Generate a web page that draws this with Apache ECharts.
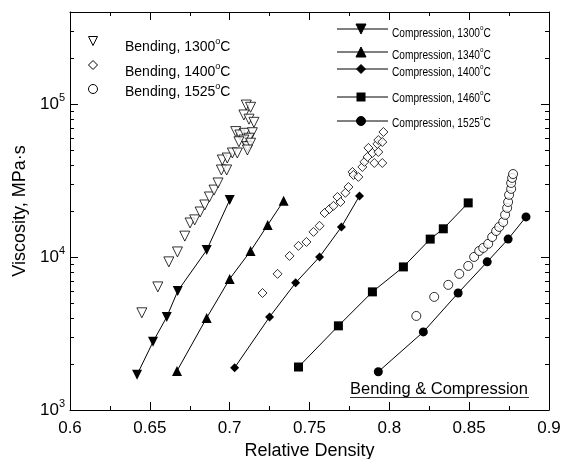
<!DOCTYPE html>
<html><head><meta charset="utf-8">
<script src="https://cdn.jsdelivr.net/npm/echarts@6/dist/echarts.min.js"></script>
<style>html,body{margin:0;padding:0;background:#fff}#c{width:564px;height:459px}</style>
</head><body><div id="c"></div><script>
const FONT = '"Liberation Sans", Arial, Helvetica, sans-serif';

// ---- tick labels ----
const xTickLabels = ['0.6', '0.65', '0.7', '0.75', '0.8', '0.85', '0.9'];
const yTickLabels = ['10{sup|3}', '10{sup|4}', '10{sup|5}'];
const yMinorTicks = [2000, 3000, 4000, 5000, 6000, 7000, 8000, 9000,
  20000, 30000, 40000, 50000, 60000, 70000, 80000, 90000, 200000, 300000];

// ---- bending (open symbols) [relative density, viscosity MPa·s] ----
const bend1300 = [[0.645,4320],[0.655,6380],[0.6619,9300],[0.6673,10800],[0.6719,13700],[0.6752,16700],
  [0.6781,17500],[0.6815,19700],[0.6844,21900],[0.6873,24700],[0.6902,27400],[0.6927,30500],[0.6948,37100],
  [0.6981,37100],[0.6954,43100],[0.6985,44400],[0.7017,47900],[0.7048,47900],[0.7038,66100],[0.7064,62800],
  [0.7094,64400],[0.7142,65000],[0.7121,59800],[0.7089,58200],[0.7058,56700],[0.7111,52700],[0.7131,55500],
  [0.7111,50100],[0.7104,98600],[0.7131,95300],[0.7089,84900],[0.7121,79700],[0.7152,76000]];
const bend1400 = [[0.7206,5820],[0.730,7760],[0.7375,10170],[0.7431,11830],[0.7481,12550],[0.7525,14600],
  [0.7563,16000],[0.7594,19400],[0.7625,20600],[0.765,21600],[0.7675,24700],[0.7694,22900],[0.7725,26300],
  [0.7744,28700],[0.7769,36000],[0.7775,34400],[0.7806,33400],[0.7831,38800],[0.7844,41900],[0.7863,45100],
  [0.7869,51700],[0.7894,47900],[0.7906,41200],[0.7931,48600],[0.7925,54900],[0.7956,41200],[0.7931,58200],
  [0.7956,56500],[0.7963,65700]];
const bend1525 = [[0.8169,4120],[0.8281,5490],[0.8369,6580],[0.8438,7760],[0.8494,8750],[0.8531,10020],
  [0.8563,10960],[0.8588,11470],[0.8619,12200],[0.8644,13520],[0.8669,14800],[0.8688,15740],[0.8713,16950],
  [0.8725,18870],[0.8738,20940],[0.8744,22900],[0.875,25500],[0.8763,27900],[0.8763,30500],[0.8769,32900],
  [0.8775,34900]];

// ---- compression (filled symbols + line) ----
const comp1300 = [[0.642,1700],[0.652,2790],[0.6606,4060],[0.6675,6000],[0.6856,11100],[0.700,23600]];
const comp1340 = [[0.667,1800],[0.6856,4000],[0.700,7190],[0.7131,10960],[0.7238,16200],[0.7338,23300]];
const comp1400 = [[0.7031,1890],[0.725,4060],[0.7413,6780],[0.7563,10020],[0.770,15740],[0.7813,25100]];
const comp1460 = [[0.7431,1910],[0.7681,3550],[0.7894,5920],[0.8088,8620],[0.8256,13100],[0.8338,15300],[0.8494,22600]];
const comp1525 = [[0.7931,1780],[0.8213,3240],[0.8431,5820],[0.8613,9300],[0.8744,13100],[0.8856,18300]];

const black = '#000';
const openStyle = {color: '#fff', borderColor: black, borderWidth: 1};
function bendSeries(name, data, symbol, size, rotate) {
  return {name, type: 'scatter', data, symbol, symbolSize: size, symbolRotate: rotate || 0,
    itemStyle: openStyle, emphasis: {disabled: true}, z: 3, animation: false};
}
function compSeries(name, data, symbol, size, rotate) {
  return {name, type: 'line', data, symbol, symbolSize: size, symbolRotate: rotate || 0,
    showSymbol: true, showAllSymbol: true, lineStyle: {color: black, width: 1},
    itemStyle: {color: black}, emphasis: {disabled: true}, z: 4, animation: false};
}

// legend helpers (legend layout only)
function tri(cx, cy, s, down, fill) {
  const h = s / 2;
  const pts = down ? [[cx - h, cy - h], [cx + h, cy - h], [cx, cy + h]]
                   : [[cx - h, cy + h], [cx + h, cy + h], [cx, cy - h]];
  return {type: 'polygon', shape: {points: pts}, style: {fill, stroke: black, lineWidth: 1}, z: 10};
}
function dia(cx, cy, s, fill) {
  const h = s / 2;
  return {type: 'polygon', shape: {points: [[cx, cy - h], [cx + h, cy], [cx, cy + h], [cx - h, cy]]},
    style: {fill, stroke: black, lineWidth: 1}, z: 10};
}
function circ(cx, cy, r, fill) {
  return {type: 'circle', shape: {cx, cy, r}, style: {fill, stroke: black, lineWidth: 1}, z: 10};
}
function sq(cx, cy, s) {
  return {type: 'rect', shape: {x: cx - s / 2, y: cy - s / 2, width: s, height: s}, style: {fill: black}, z: 10};
}
function hline(x1, x2, y) {
  return {type: 'line', shape: {x1, y1: y, x2, y2: y}, style: {stroke: black, lineWidth: 1}, z: 9};
}
function legText(x, y, label, size, sx) {
  const ss = Math.round(size * 0.65);
  return {type: 'text', x, y, scaleX: sx || 1, z: 10,
    style: {text: label + '{s|o}C', x: 0, y: 0, align: 'left', verticalAlign: 'middle',
      fontSize: size, fontFamily: FONT, fill: black, lineHeight: size + 6,
      rich: {s: {fontSize: ss, fontFamily: FONT, lineHeight: ss, verticalAlign: 'top', fill: black}}}};
}

const CS = 13, CX = 0.78;
const graphics = [
  tri(93, 41, 9, true, '#fff'), dia(93, 65, 9, '#fff'), circ(93, 89, 4.5, '#fff'),
  legText(125, 47, 'Bending, 1300', 14), legText(125, 72, 'Bending, 1400', 14), legText(125, 92, 'Bending, 1525', 14),
  hline(337, 388, 29), tri(361, 29, 10, true, black), legText(392, 33, 'Compression, 1300', CS, CX),
  hline(337, 388, 52), tri(361, 52, 10, false, black), legText(392, 55, 'Compression, 1340', CS, CX),
  hline(337, 388, 69), dia(361, 69, 9, black), legText(392, 72, 'Compression, 1400', CS, CX),
  hline(337, 388, 97), sq(361, 97, 9), legText(392, 98, 'Compression, 1460', CS, CX),
  hline(337, 388, 121), circ(361, 121, 4.5, black), legText(392, 123, 'Compression, 1525', CS, CX),
  {type: 'text', x: 350, y: 389, z: 10, style: {text: 'Bending & Compression', x: 0, y: 0, align: 'left',
    verticalAlign: 'middle', fontSize: 16.5, fontFamily: FONT, fill: black}},
  {type: 'line', shape: {x1: 350, y1: 397.5, x2: 529, y2: 397.5}, style: {stroke: '#333', lineWidth: 1.2}, z: 10}
];

const xBase = {type: 'value', min: 0.6, max: 0.9, interval: 0.05,
  axisLine: {show: true, onZero: false, lineStyle: {color: black, width: 1}},
  axisTick: {show: true, inside: true, length: 8, lineStyle: {color: black, width: 1}},
  minorTick: {show: true, splitNumber: 2, length: 4, lineStyle: {color: black, width: 1}},
  splitLine: {show: false}, minorSplitLine: {show: false}};
const yBase = {type: 'log', logBase: 10, min: 1000, max: 400000,
  axisLine: {show: true, onZero: false, lineStyle: {color: black, width: 1}},
  axisTick: {show: true, inside: true, length: 8, lineStyle: {color: black, width: 1}},
  splitLine: {show: false}};

const option = {
  animation: false,
  backgroundColor: '#fff',
  grid: {left: 70, right: 15, top: 12, bottom: 49, containLabel: false, outerBoundsMode: 'none'},
  xAxis: [
    Object.assign({}, xBase, {position: 'bottom',
      axisLabel: {show: true, margin: 10, fontSize: 17, fontFamily: FONT, color: black,
        formatter: v => { const i = Math.round((v - 0.6) / 0.05); return xTickLabels[i] || ''; }},
      name: 'Relative Density', nameLocation: 'middle', nameGap: 29,
      nameTextStyle: {fontSize: 18, fontFamily: FONT, color: black}}),
    Object.assign({}, xBase, {position: 'top', axisLabel: {show: false}})
  ],
  yAxis: [
    Object.assign({}, yBase, {position: 'left',
      axisLabel: {show: true, margin: 5, fontSize: 17, fontFamily: FONT, color: black, lineHeight: 24,
        showMaxLabel: false,
        formatter: v => { const l = Math.log10(v); const e = Math.round(l);
          if (Math.abs(l - e) > 1e-6) return ''; return yTickLabels[e - 3] || ''; },
        rich: {sup: {fontSize: 11, lineHeight: 11, verticalAlign: 'top', fontFamily: FONT, color: black}}},
      name: 'Viscosity, MPa\u00b7s', nameLocation: 'middle', nameGap: 31,
      nameTextStyle: {fontSize: 18, fontFamily: FONT, color: black}}),
    Object.assign({}, yBase, {position: 'right', axisLabel: {show: false}})
  ],
  graphic: graphics,
  series: [
    bendSeries('Bending, 1300', bend1300, 'triangle', 10, 180),
    bendSeries('Bending, 1400', bend1400, 'diamond', 9),
    bendSeries('Bending, 1525', bend1525, 'circle', 9),
    compSeries('Compression, 1300', comp1300, 'triangle', 10, 180),
    compSeries('Compression, 1340', comp1340, 'triangle', 10),
    compSeries('Compression, 1400', comp1400, 'diamond', 9),
    compSeries('Compression, 1460', comp1460, 'rect', 9),
    compSeries('Compression, 1525', comp1525, 'circle', 9),
    {type: 'custom', name: 'yMinorTicks', silent: true, animation: false, z: 2,
      data: yMinorTicks.map(v => [0.6, v]), encode: {x: 0, y: 1},
      renderItem: (params, api) => {
        const p = api.coord([0.6, api.value(1)]);
        const cs = params.coordSys;
        const y = Math.round(p[1]) + 0.5;
        return {type: 'group', children: [
          {type: 'line', shape: {x1: cs.x, y1: y, x2: cs.x + 4, y2: y}, style: {stroke: black, lineWidth: 1}},
          {type: 'line', shape: {x1: cs.x + cs.width - 4, y1: y, x2: cs.x + cs.width, y2: y}, style: {stroke: black, lineWidth: 1}}
        ]};
      }}
  ]
};
const chart = echarts.init(document.getElementById('c'));
chart.setOption(option);
</script></body></html>
